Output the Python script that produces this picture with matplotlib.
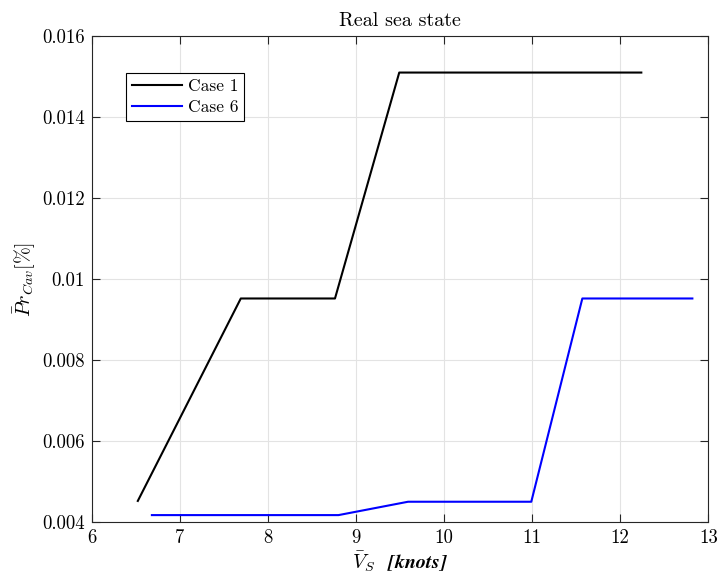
import numpy as np
import matplotlib
matplotlib.use('Agg')
import matplotlib.pyplot as plt

plt.rcParams['font.family'] = 'serif'
plt.rcParams['font.serif'] = ['cmr10', 'DejaVu Serif']
plt.rcParams['mathtext.fontset'] = 'cm'
plt.rcParams['axes.unicode_minus'] = False

# Case 1
vs1 = [6.52, 7.69, 8.76, 9.49, 12.24]
pr1 = [0.00452, 0.00952, 0.00952, 0.0151, 0.0151]
# Case 6
vs6 = [6.68, 8.80, 9.59, 10.99, 11.57, 12.82]
pr6 = [0.00417, 0.00417, 0.00450, 0.00450, 0.00952, 0.00952]

yticks = [0.004, 0.006, 0.008, 0.01, 0.012, 0.014, 0.016]

fig = plt.figure(figsize=(7.19, 5.75), dpi=100)
ax = fig.add_axes([0.128, 0.0922, 0.857, 0.845])

ax.plot(vs1, pr1, color='black', lw=1.5, label='Case 1')
ax.plot(vs6, pr6, color='blue', lw=1.5, label='Case 6')

ax.set_xlim(6, 13)
ax.set_ylim(0.004, 0.016)
ax.set_xticks(range(6, 14))
ax.set_yticks(yticks)
ax.set_yticklabels(['%g' % v for v in yticks])

ax.grid(True, color='#e3e3e3', lw=0.8)
ax.set_axisbelow(True)
ax.tick_params(direction='in', top=True, right=True, labelsize=13.5, colors='#262626',
               length=6, width=0.8, pad=5)
for s in ax.spines.values():
    s.set_color('#262626')
    s.set_linewidth(0.8)
for lab in ax.get_xticklabels() + ax.get_yticklabels():
    lab.set_color('black')

ax.set_title('Real sea state', fontsize=14.5, pad=7)
ax.set_xlabel(r'$\bar{V}_S$  $\mathbfit{[knots]}$', fontsize=14.5, labelpad=2)
ax.set_ylabel(r'$\bar{P}r_{Cav} [\%]$', fontsize=14.5, labelpad=4)

leg = ax.legend(loc='upper left', bbox_to_anchor=(0.055, 0.924), borderaxespad=0,
                fancybox=False, edgecolor='black', framealpha=1, fontsize=12.5,
                handlelength=2.9, borderpad=0.35, labelspacing=0.3, handletextpad=0.3)
leg.get_frame().set_linewidth(0.8)

fig.savefig('out.png', dpi=100)
